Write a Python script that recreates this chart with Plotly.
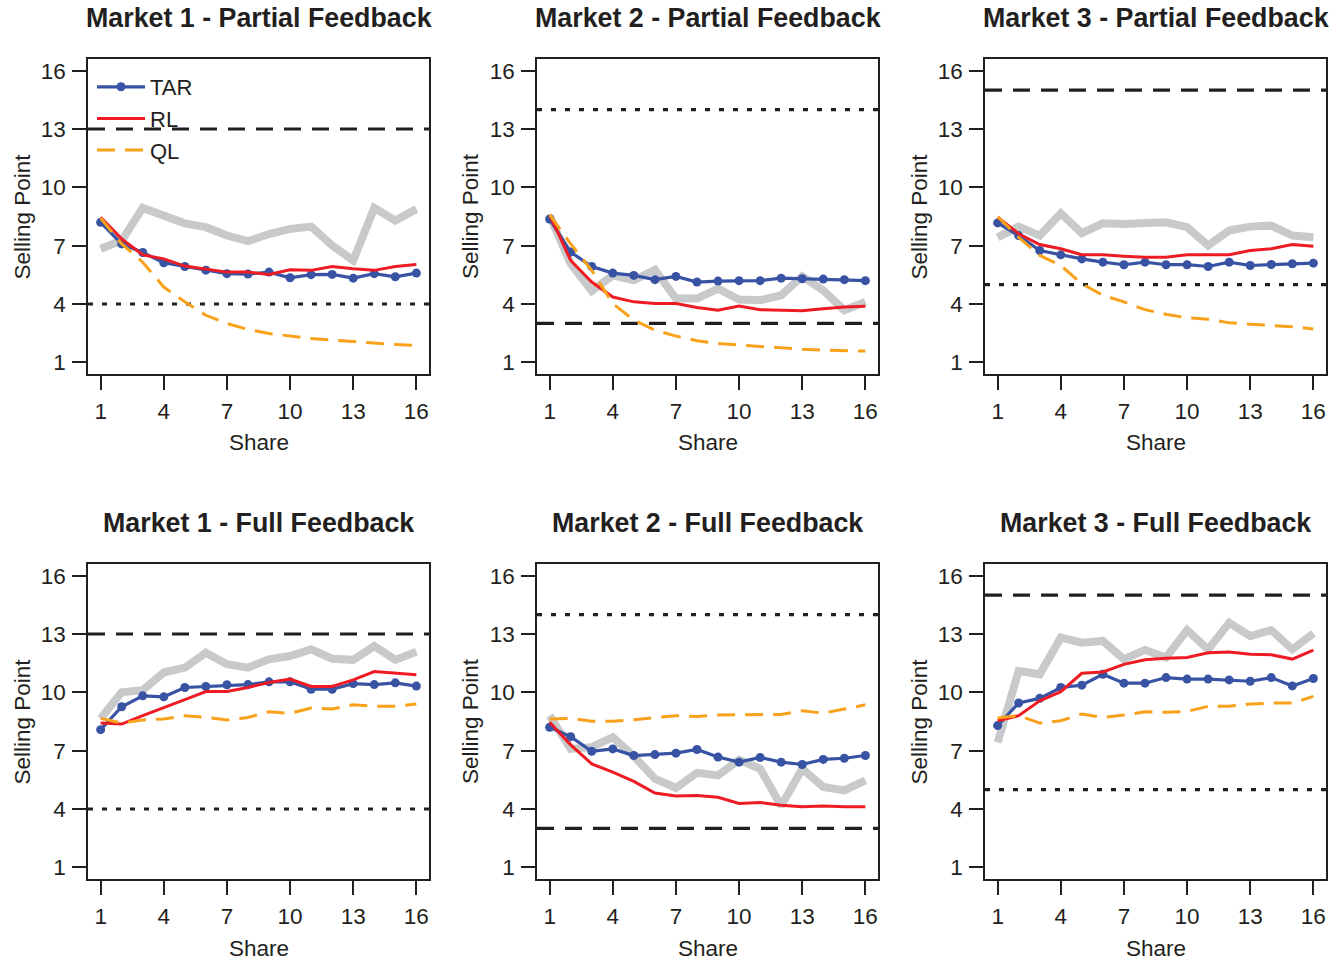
import plotly.graph_objects as go

shares = list(range(1, 17))
tick_vals = [1, 4, 7, 10, 13, 16]

panel_titles = [
    "Market 1 - Partial Feedback", "Market 2 - Partial Feedback", "Market 3 - Partial Feedback",
    "Market 1 - Full Feedback", "Market 2 - Full Feedback", "Market 3 - Full Feedback",
]

# Human (grey) series
human_m1_partial = [6.84, 7.26, 8.94, 8.54, 8.15, 7.95, 7.52, 7.23, 7.60, 7.86, 7.98, 7.01, 6.24, 8.94, 8.29, 8.88]
human_m2_partial = [8.54, 6.07, 4.67, 5.47, 5.22, 5.76, 4.28, 4.28, 4.79, 4.23, 4.19, 4.45, 5.42, 4.70, 3.68, 4.11]
human_m3_partial = [7.43, 7.98, 7.52, 8.66, 7.64, 8.15, 8.12, 8.12, 8.20, 7.95, 7.01, 7.78, 7.98, 8.03, 7.52, 7.43]
human_m1_full = [8.66, 10.00, 10.11, 11.02, 11.27, 12.04, 11.45, 11.27, 11.70, 11.87, 12.21, 11.73, 11.67, 12.38, 11.67, 12.09]
human_m2_full = [8.80, 7.09, 7.18, 7.69, 6.72, 5.56, 5.08, 5.86, 5.73, 6.53, 6.07, 4.16, 6.07, 5.13, 4.96, 5.47]
human_m3_full = [7.43, 11.10, 10.93, 12.81, 12.55, 12.64, 11.70, 12.18, 11.79, 13.20, 12.21, 13.58, 12.89, 13.20, 12.21, 13.03]

# TAR series
tar_m1_partial = [8.20, 7.09, 6.65, 6.12, 5.93, 5.74, 5.56, 5.54, 5.64, 5.35, 5.51, 5.52, 5.33, 5.56, 5.40, 5.59]
tar_m2_partial = [8.37, 6.67, 5.93, 5.59, 5.47, 5.25, 5.42, 5.13, 5.18, 5.20, 5.20, 5.33, 5.30, 5.28, 5.25, 5.20]
tar_m3_partial = [8.17, 7.52, 6.75, 6.53, 6.32, 6.15, 6.02, 6.15, 6.02, 6.02, 5.93, 6.15, 5.98, 6.03, 6.07, 6.10]
tar_m1_full = [8.08, 9.26, 9.82, 9.77, 10.25, 10.30, 10.39, 10.40, 10.54, 10.54, 10.16, 10.16, 10.45, 10.40, 10.49, 10.32]
tar_m2_full = [8.20, 7.72, 6.97, 7.09, 6.75, 6.80, 6.87, 7.06, 6.67, 6.41, 6.65, 6.41, 6.29, 6.55, 6.61, 6.75]
tar_m3_full = [8.29, 9.45, 9.69, 10.25, 10.37, 10.93, 10.47, 10.47, 10.76, 10.68, 10.68, 10.64, 10.57, 10.76, 10.33, 10.71]

# RL series
rl_m1_partial = [8.46, 7.35, 6.53, 6.32, 5.95, 5.81, 5.64, 5.64, 5.52, 5.76, 5.73, 5.93, 5.81, 5.73, 5.93, 6.03]
rl_m2_partial = [8.59, 6.24, 5.13, 4.36, 4.11, 4.02, 4.02, 3.82, 3.68, 3.89, 3.71, 3.68, 3.65, 3.76, 3.85, 3.89]
rl_m3_partial = [8.46, 7.61, 7.06, 6.84, 6.53, 6.53, 6.46, 6.41, 6.41, 6.53, 6.53, 6.53, 6.75, 6.84, 7.06, 6.97]
rl_m1_full = [8.42, 8.37, 8.80, 9.19, 9.62, 10.04, 10.04, 10.25, 10.51, 10.68, 10.30, 10.30, 10.64, 11.07, 10.98, 10.90]
rl_m2_full = [8.46, 7.30, 6.32, 5.90, 5.42, 4.82, 4.67, 4.70, 4.60, 4.28, 4.33, 4.19, 4.11, 4.16, 4.12, 4.11]
rl_m3_full = [8.54, 8.80, 9.56, 10.03, 10.98, 11.05, 11.44, 11.67, 11.75, 11.79, 12.04, 12.08, 11.96, 11.93, 11.71, 12.17]

# QL series
ql_m1_partial = [8.42, 7.09, 6.15, 4.87, 4.11, 3.42, 3.00, 2.69, 2.48, 2.35, 2.23, 2.14, 2.06, 1.97, 1.92, 1.87]
ql_m2_partial = [8.59, 7.09, 5.73, 4.02, 3.17, 2.66, 2.35, 2.11, 1.97, 1.89, 1.80, 1.73, 1.67, 1.63, 1.60, 1.58]
ql_m3_partial = [8.49, 7.43, 6.50, 5.98, 5.04, 4.45, 4.11, 3.71, 3.47, 3.29, 3.22, 3.03, 2.96, 2.91, 2.83, 2.72]
ql_m1_full = [8.66, 8.42, 8.58, 8.63, 8.80, 8.71, 8.58, 8.71, 9.00, 8.92, 9.19, 9.14, 9.36, 9.28, 9.28, 9.40]
ql_m2_full = [8.63, 8.66, 8.51, 8.51, 8.59, 8.71, 8.80, 8.76, 8.83, 8.85, 8.86, 8.86, 9.05, 8.93, 9.14, 9.36]
ql_m3_full = [8.68, 8.80, 8.42, 8.54, 8.88, 8.71, 8.83, 9.00, 8.97, 9.02, 9.28, 9.28, 9.40, 9.45, 9.45, 9.79]

# Reference levels per market: (dashed, dotted)
dashed_levels = [13, 3, 15, 13, 3, 15]
dotted_levels = [4, 14, 5, 4, 14, 5]

human = [human_m1_partial, human_m2_partial, human_m3_partial, human_m1_full, human_m2_full, human_m3_full]
tar = [tar_m1_partial, tar_m2_partial, tar_m3_partial, tar_m1_full, tar_m2_full, tar_m3_full]
rl = [rl_m1_partial, rl_m2_partial, rl_m3_partial, rl_m1_full, rl_m2_full, rl_m3_full]
ql = [ql_m1_partial, ql_m2_partial, ql_m3_partial, ql_m1_full, ql_m2_full, ql_m3_full]

W, H = 1341, 962
INK = "#231f20"
GREY = "#c8c9cb"
BLUE = "#3953a4"
RED = "#ed1c24"
ORANGE = "#f9a11b"
FONT = "Liberation Sans, Arial, Helvetica, sans-serif"
TXT = 22.5

col_left = [88, 537, 985]
col_w = 341
row_top = [59, 564]
row_h = 315

fig = go.Figure()
annotations = []
shapes = []

for k in range(6):
    r, c = divmod(k, 3)
    sfx = "" if k == 0 else str(k + 1)
    xa, ya = "x" + sfx, "y" + sfx
    x0, x1 = col_left[c], col_left[c] + col_w
    y0, y1 = row_top[r], row_top[r] + row_h
    axis_common = dict(
        range=[0.4, 16.6], tickvals=tick_vals, ticks="outside", ticklen=14, tickwidth=1.5,
        tickcolor=INK, showline=True, mirror=True, linecolor=INK, linewidth=1.5,
        showgrid=False, zeroline=False, tickfont=dict(size=TXT, color=INK, family=FONT),
        fixedrange=True,
    )
    fig.update_layout(**{
        ("xaxis" + sfx): dict(domain=[x0 / W, x1 / W], anchor=ya, ticklabelstandoff=2, **axis_common),
        ("yaxis" + sfx): dict(domain=[1 - y1 / H, 1 - y0 / H], anchor=xa, ticklabelstandoff=2, **axis_common),
    })
    show = (k == 0)
    fig.add_trace(go.Scatter(x=shares, y=human[k], mode="lines", xaxis=xa, yaxis=ya,
                             line=dict(color=GREY, width=8), showlegend=False, hoverinfo="skip"))
    fig.add_trace(go.Scatter(x=shares, y=tar[k], mode="lines+markers", xaxis=xa, yaxis=ya, name="TAR",
                             line=dict(color=BLUE, width=3.2), marker=dict(color=BLUE, size=9),
                             showlegend=show, legendrank=1))
    fig.add_trace(go.Scatter(x=shares, y=rl[k], mode="lines", xaxis=xa, yaxis=ya, name="RL",
                             line=dict(color=RED, width=3), showlegend=show, legendrank=2))
    fig.add_trace(go.Scatter(x=shares, y=ql[k], mode="lines", xaxis=xa, yaxis=ya, name="QL",
                             line=dict(color=ORANGE, width=3, dash="18px,10px"), showlegend=show, legendrank=3))
    shapes.append(dict(type="line", xref=xa + " domain", yref=ya, x0=0, x1=1,
                       y0=dashed_levels[k], y1=dashed_levels[k], layer="below",
                       line=dict(color=INK, width=3.2, dash="17px,11px")))
    shapes.append(dict(type="line", xref=xa + " domain", yref=ya, x0=0, x1=1,
                       y0=dotted_levels[k], y1=dotted_levels[k], layer="below",
                       line=dict(color=INK, width=3.2, dash="5px,9px")))
    cx = (x0 + x1) / 2
    title_y = 18 if r == 0 else 523
    annotations.append(dict(text="<b>" + panel_titles[k] + "</b>", xref="paper", yref="paper",
                            x=cx / W, y=1 - title_y / H, xanchor="center", yanchor="middle",
                            showarrow=False, font=dict(size=26.8, color=INK, family=FONT)))
    share_y = 443 if r == 0 else 948
    annotations.append(dict(text="Share", xref="paper", yref="paper", x=cx / W, y=1 - share_y / H,
                            xanchor="center", yanchor="middle", showarrow=False,
                            font=dict(size=TXT, color=INK, family=FONT)))
    annotations.append(dict(text="Selling Point", xref="paper", yref="paper",
                            x=(22 + 448.5 * c) / W, y=1 - (y0 + y1) / 2 / H, textangle=-90,
                            xanchor="center", yanchor="middle", showarrow=False,
                            font=dict(size=TXT, color=INK, family=FONT)))

fig.update_layout(
    width=W, height=H, margin=dict(l=0, r=0, t=0, b=0),
    paper_bgcolor="white", plot_bgcolor="white",
    font=dict(family=FONT, color=INK, size=TXT),
    annotations=annotations, shapes=shapes,
    legend=dict(x=92 / W, y=1 - 66 / H, xanchor="left", yanchor="top",
                bgcolor="rgba(0,0,0,0)", borderwidth=0, itemwidth=48,
                font=dict(size=22, color=INK, family=FONT), tracegroupgap=0),
)

fig.write_html("out.html")
